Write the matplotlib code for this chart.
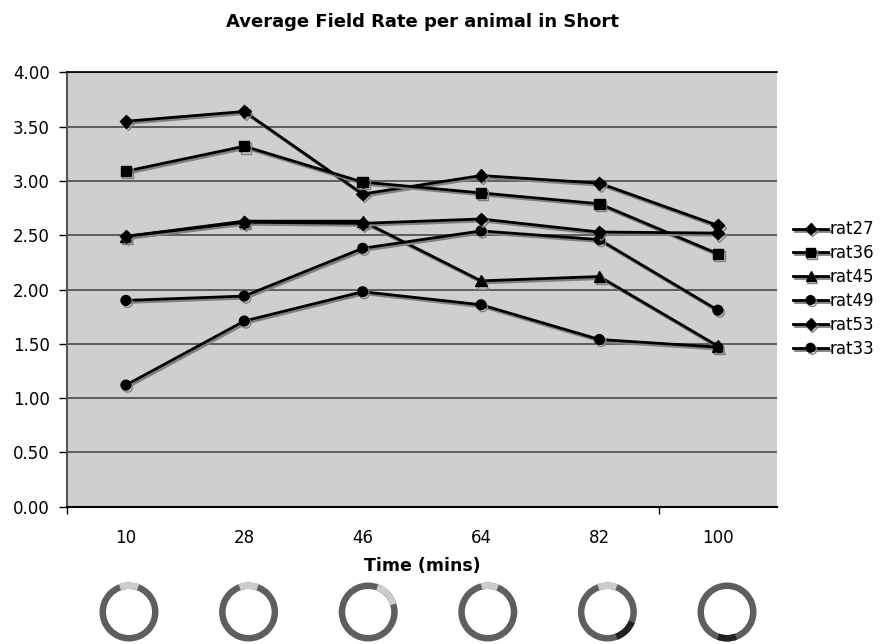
import matplotlib
matplotlib.use("Agg")
import matplotlib.pyplot as plt
import matplotlib.patheffects as pe
from matplotlib.patches import Wedge
import numpy as np

# ---- data ----
times = ["10", "28", "46", "64", "82", "100"]
series_names = ["rat27", "rat36", "rat45", "rat49", "rat53", "rat33"]
rat27 = [3.55, 3.64, 2.88, 3.05, 2.98, 2.59]
rat36 = [3.09, 3.32, 2.99, 2.89, 2.79, 2.33]
rat45 = [2.49, 2.63, 2.63, 2.08, 2.12, 1.48]
rat49 = [1.90, 1.94, 2.38, 2.54, 2.46, 1.81]
rat53 = [2.49, 2.62, 2.61, 2.65, 2.53, 2.52]
rat33 = [1.12, 1.71, 1.98, 1.86, 1.54, 1.47]
series_values = [rat27, rat36, rat45, rat49, rat53, rat33]
markers = ["D", "s", "^", "o", "D", "o"]
msizes = [6.5, 7.5, 8, 7, 6.5, 7]

# decorative rings below the axis: (light segment deg range, dark segment deg range)
ring_light = [(70, 110), (70, 110), (17, 70), (68, 104), (70, 110), None]
ring_black = [None, None, None, None, (-70, -22), (-110, -70)]

W, H = 883, 644
fig = plt.figure(figsize=(W / 100, H / 100), dpi=100)
fig.patch.set_facecolor("white")

left, right, top, bottom = 66.7, 777, 72.4, 506.7
ax = fig.add_axes([left / W, 1 - bottom / H, (right - left) / W, (bottom - top) / H])
ax.set_facecolor("#cfcfcf")

x = np.arange(len(times))
shadow = [pe.SimpleLineShadow(offset=(1.2, -1.5), shadow_color="#808080", alpha=1.0), pe.Normal()]
for name, vals, mk, ms in zip(series_names, series_values, markers, msizes):
    ax.plot(x, vals, color="black", lw=2.0, marker=mk, markersize=ms,
            markerfacecolor="black", markeredgecolor="black", label=name,
            path_effects=shadow, zorder=3)

ax.set_xlim(-0.5, len(times) - 0.5)
ax.set_ylim(0, 4.0)
ax.set_yticks(np.arange(0, 4.01, 0.5))
ax.set_yticklabels([f"{v:.2f}" for v in np.arange(0, 4.01, 0.5)])
ax.set_xticks(x)
ax.set_xticklabels(times)
ax.set_xticks([-0.5, 4.5], minor=True)
ax.tick_params(axis="x", which="major", length=0, pad=16, labelsize=12, colors="black")
ax.tick_params(axis="x", which="minor", length=5, width=1, color="black", direction="out")
ax.tick_params(axis="y", length=6, width=1, pad=6, labelsize=12, color="black")
ax.yaxis.grid(True, color="#4a4a4a", lw=1.2)
ax.set_axisbelow(True)
ax.spines["right"].set_visible(False)
ax.spines["top"].set_color("black")
ax.spines["top"].set_linewidth(1.2)
ax.spines["bottom"].set_color("black")
ax.spines["bottom"].set_linewidth(1.5)
ax.spines["left"].set_color("#555555")
ax.spines["left"].set_linewidth(1.5)

ax.set_xlabel("Time (mins)", fontsize=12.5, fontweight="bold", labelpad=7)
fig.text(422 / W, 1 - 22 / H, "Average Field Rate per animal in Short",
         fontsize=13, fontweight="bold", ha="center", va="center")

fig.legend(loc="center left", bbox_to_anchor=(793 / W, 1 - 289 / H), frameon=False,
           fontsize=12, borderpad=0, borderaxespad=0, labelspacing=0.35,
           handlelength=2.1, handletextpad=0.1, markerscale=0.9)

# decorative rings
ov = fig.add_axes([0, 0, 1, 1], zorder=-1)
ov.set_xlim(0, W)
ov.set_ylim(0, H)
ov.axis("off")
r_out, ring_w, cy = 29.5, 6.5, H - 612
for i in range(len(times)):
    cx = 129 + 119.6 * i
    ov.add_patch(Wedge((cx, cy), r_out, 0, 360, width=ring_w, color="#5e5e5e", lw=0))
    if ring_light[i]:
        a, b = ring_light[i]
        ov.add_patch(Wedge((cx, cy), r_out, a, b, width=ring_w, color="#cccccc", lw=0))
    if ring_black[i]:
        a, b = ring_black[i]
        ov.add_patch(Wedge((cx, cy), r_out, a, b, width=ring_w, color="#222222", lw=0))

fig.savefig("out.png", dpi=100)
